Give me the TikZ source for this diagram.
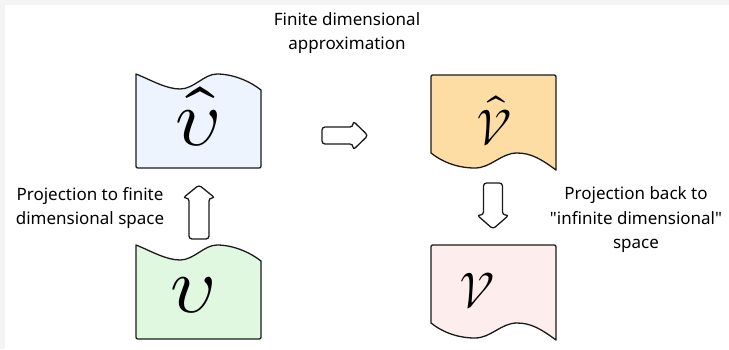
\documentclass[tikz,border=0pt]{standalone}
\usepackage{fontspec}
\usepackage{unicode-math}
\setmathfont{Latin Modern Math}
\setmainfont{Noto Sans}[Ligatures=TeXOff]
\definecolor{bggray}{HTML}{F4F4F4}
\definecolor{edge}{HTML}{1A1A1A}
\definecolor{fillblue}{HTML}{EDF4FE}
\definecolor{fillorange}{HTML}{FEDDA5}
\definecolor{fillgreen}{HTML}{E1F8E0}
\definecolor{fillpink}{HTML}{FDEEED}
\tikzset{
  outline/.style={draw=edge, line width=1.3pt, line join=round},
  lbl/.style={align=center, font=\fontsize{17}{24.5}\selectfont, text=black, inner sep=0pt},
  sym/.style={anchor=base, inner sep=0pt, font=\fontsize{50}{50}\selectfont},
  symsmall/.style={anchor=base, inner sep=0pt, font=\fontsize{80}{80}\selectfont},
  % sheet with a wavy top edge
  topwave/.pic={
    \path[pic actions] (0,0) .. controls (15,6) and (30,15) .. (44,15)
      .. controls (58,15) and (68,0) .. (81,0)
      .. controls (98,0) and (115,8) .. (125,16)
      -- (125,90) .. controls (125,94) .. (121,94)
      -- (4,94) .. controls (0,94) .. (0,90) -- cycle;
  },
  % sheet with a wavy bottom edge
  botwave/.pic={
    \path[pic actions] (0,4) .. controls (0,0) .. (4,0) -- (121,0)
      .. controls (125,0) .. (125,4) -- (125,95)
      .. controls (110,84) and (100,78) .. (86,78)
      .. controls (70,78) and (60,93) .. (44,93)
      .. controls (25,93) and (10,86) .. (0,78) -- cycle;
  },
}
\begin{document}
\begin{tikzpicture}[x=1pt,y=-1pt]
\useasboundingbox (0,0) rectangle (729,349);
\fill[bggray] (0,0) rectangle (729,349);
\fill[white] (5,5) rectangle (729,349);

% the four sheets
\pic[outline, fill=fillblue] at (136,74) {topwave};
\pic[outline, fill=fillorange] at (431,75) {botwave};
\pic[outline, fill=fillgreen] at (136,245) {topwave};
\pic[outline, fill=fillpink] at (431,245) {botwave};

% symbols on the sheets
\node[symsmall] (vhat) at (198,145) {$\hat{\upsilon}$};
\node[sym] (Vhat) at (494,145) {$\hat{\symcal{V}}$};
\node[symsmall] (vsm) at (193,312) {$\upsilon$};
\node[sym] (Vbig) at (477,308) {$\symcal{V}$};

% block arrows
\draw[outline, rounded corners=3pt] (322,127) -- (353,127) -- (353,121) -- (368,135.5)
  -- (353,150) -- (353,144) -- (322,144) -- cycle;
\draw[outline, rounded corners=3pt] (189,239) -- (189,198) -- (183,198) -- (199,185)
  -- (215,198) -- (209,198) -- (209,239) -- cycle;
\draw[outline, rounded corners=3pt] (483.5,183) -- (502.5,183) -- (502.5,215) -- (509,215)
  -- (493,229) -- (477,215) -- (483.5,215) -- cycle;

% labels
\node[lbl] (ttop) at (347,33) {Finite dimensional\\approximation};
\node[lbl] (tleft) at (90,208) {Projection to finite\\dimensional space};
\node[lbl] (tright) at (636,220) {Projection back to\\"infinite dimensional"\\space};
\end{tikzpicture}
\end{document}
